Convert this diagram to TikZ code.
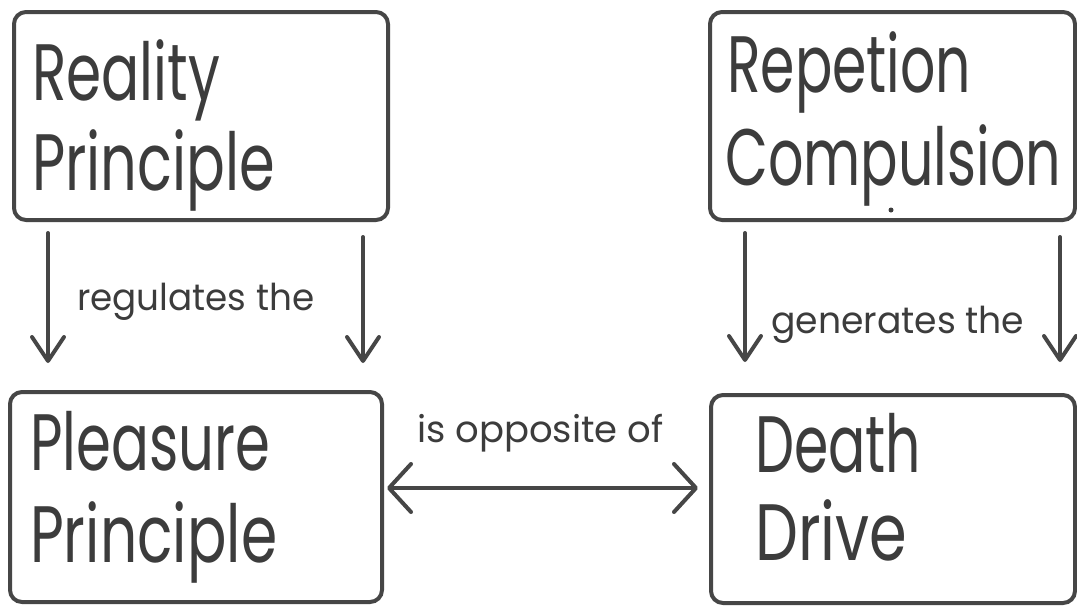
\documentclass[tikz,border=0pt]{standalone}
\usepackage{fontspec}
\setmainfont{Poppins}
\usepackage{graphicx}
\usetikzlibrary{arrows.meta}
\definecolor{ink}{HTML}{3C3C3C}
\definecolor{edge}{HTML}{464646}
\newcommand{\fitw}[3]{\resizebox{#1pt}{\height}{\fontsize{#2}{#2}\selectfont #3}}
\tikzset{
  box/.style={draw=edge, line width=4pt, rounded corners=12pt, inner sep=0pt, fill=white},
  txt/.style={inner sep=0pt, anchor=base west, text=ink},
  arr/.style={draw=edge, line width=4pt, line cap=round,
    -{Straight Barb[length=24pt, width=32pt, round]}},
  dbl/.style={draw=edge, line width=4pt, line cap=round,
    {Straight Barb[length=22pt, width=48pt, round]}-{Straight Barb[length=22pt, width=48pt, round]}}
}
\begin{document}
\begin{tikzpicture}[x=1pt, y=-1pt]
\useasboundingbox[fill=white] (0,0) rectangle (1077,606);
% boxes
\node[box, minimum width=374pt, minimum height=208pt] (A) at (201,116) {};
\node[box, minimum width=365pt, minimum height=208pt] (B) at (892.5,116) {};
\node[box, minimum width=372pt, minimum height=210pt] (C) at (196,497) {};
\node[box, minimum width=364pt, minimum height=208pt] (D) at (893,499) {};
% box texts
\node[txt] (a1) at (32,100) {\fitw{188}{80}{Reality}};
\node[txt] (a2) at (32,190) {\fitw{243}{80}{Principle}};
\node[txt] (b1) at (727,92) {\fitw{244}{80}{Repetion}};
\node[txt] (b2) at (725,185) {\fitw{336}{80}{Compulsion}};
\node[circle, fill=ink, inner sep=0pt, minimum size=5pt] (bdot) at (891,210) {};
\node[txt] (c1) at (30,470) {\fitw{240}{80}{Pleasure}};
\node[txt] (c2) at (30,562) {\fitw{247}{80}{Principle}};
\node[txt] (d1) at (755,472) {\fitw{166}{80}{Death}};
\node[txt] (d2) at (755,560) {\fitw{152}{80}{Drive}};
% connector labels
\node[txt] (l1) at (77,310) {\fitw{237}{37}{regulates the}};
\node[txt] (l2) at (771,333) {\fitw{253}{37}{generates the}};
\node[txt] (l3) at (417,442) {\fitw{246}{37}{is opposite of}};
% connectors
\draw[arr] ([xshift=36pt,yshift=-11pt]A.south west) -- ([xshift=40pt,yshift=27pt]C.north west);
\draw[arr] ([xshift=-27pt,yshift=-15pt]A.south east) -- ([xshift=-21pt,yshift=27pt]C.north east);
\draw[arr] ([xshift=37pt,yshift=-11pt]B.south west) -- ([xshift=36pt,yshift=31pt]D.north west);
\draw[arr] ([xshift=-17pt,yshift=-15pt]B.south east) -- ([xshift=-17pt,yshift=31pt]D.north east);
\draw[dbl] ([xshift=3pt,yshift=9pt]C.east) -- ([xshift=-11pt,yshift=11pt]D.west);
\end{tikzpicture}
\end{document}
